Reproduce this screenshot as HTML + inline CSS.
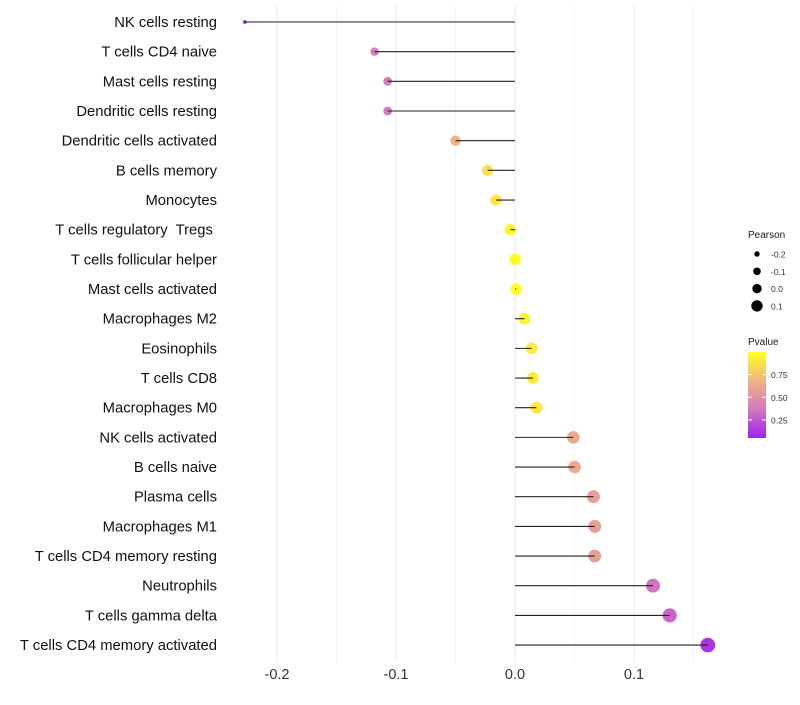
<!DOCTYPE html>
<html><head><meta charset="utf-8"><style>
body{margin:0;background:#fff;}
svg text{font-family:"Liberation Sans",sans-serif;white-space:pre;}
</style></head><body>
<svg id="chart" width="800" height="700"></svg>
<script>
const categories=["NK cells resting","T cells CD4 naive","Mast cells resting","Dendritic cells resting","Dendritic cells activated","B cells memory","Monocytes","T cells regulatory  Tregs ","T cells follicular helper","Mast cells activated","Macrophages M2","Eosinophils","T cells CD8","Macrophages M0","NK cells activated","B cells naive","Plasma cells","Macrophages M1","T cells CD4 memory resting","Neutrophils","T cells gamma delta","T cells CD4 memory activated"];
const pearson=[-0.227,-0.118,-0.107,-0.107,-0.050,-0.023,-0.016,-0.004,0.000,0.001,0.008,0.014,0.015,0.018,0.049,0.050,0.066,0.067,0.067,0.116,0.130,0.162];
const pvalue=[0.05,0.38,0.38,0.38,0.68,0.88,0.9,0.97,0.99,1.0,0.96,0.93,0.93,0.9,0.62,0.63,0.58,0.58,0.58,0.35,0.3,0.12];
const xTicks=[-0.2,-0.1,0.0,0.1];
const xTickLabels=["-0.2","-0.1","0.0","0.1"];
const minorTicks=[-0.15,-0.05,0.05,0.15];
const sizeLegend=[-0.2,-0.1,0.0,0.1];
const colorLegend=[0.75,0.50,0.25];

const svg=document.getElementById('chart');
const NS='http://www.w3.org/2000/svg';
function mk(t,a,p){const e=document.createElementNS(NS,t);for(const k in a)e.setAttribute(k,a[k]);(p||svg).appendChild(e);return e;}
const x=v=>515+v*1190;
const y=i=>22+i*29.67;
const r=v=>Math.sqrt(Math.max(2.25,3.5+130*(v+0.227)));
function lerp(a,b,t){return a.map((c,i)=>Math.round(c+(b[i]-c)*t));}
function col(p){const t=Math.min(1,Math.max(0,(p-0.05)/0.95));
 const s=[[160,32,240],[212,120,190],[240,180,130],[255,255,32]];
 const f=t*3,i=Math.min(2,Math.floor(f));const c=lerp(s[i],s[i+1],f-i);return `rgb(${c})`;}

[...xTicks,...minorTicks].forEach((v,k)=>{const g=mk('line',{x1:x(v),x2:x(v),y1:5,y2:662,stroke:k<xTicks.length?'#ebebeb':'#f4f4f4','stroke-width':1});
});
xTicks.forEach((v,i)=>{const t=mk('text',{x:x(v),y:679,'text-anchor':'middle','font-size':14.5,fill:'#333'});t.textContent=xTickLabels[i];
});

categories.forEach((c,i)=>{
 const t=mk('text',{x:217,y:y(i)+5,'text-anchor':'end','font-size':14.8,fill:'#111'});t.textContent=c;
 
 const p=mk('circle',{cx:x(pearson[i]),cy:y(i),r:r(pearson[i]),fill:col(pvalue[i])});
 
 const l=mk('line',{x1:x(0),x2:x(pearson[i]),y1:y(i),y2:y(i),stroke:'#222','stroke-width':1.1});
 
});

const lt=mk('text',{x:748,y:238,'font-size':10,fill:'#1a1a1a'});lt.textContent='Pearson';

const lr=[2.7,3.8,4.7,5.7];
sizeLegend.forEach((v,i)=>{const cy=254+i*17.3;
 const c=mk('circle',{cx:757,cy:cy,r:lr[i],fill:'#000'});
 const t=mk('text',{x:771,y:cy+3.5,'font-size':8.5,fill:'#333'});t.textContent=v.toFixed(1);
 });
const pt=mk('text',{x:748,y:345,'font-size':10,fill:'#1a1a1a'});pt.textContent='Pvalue';

const defs=mk('defs',{});const gr=mk('linearGradient',{id:'g',x1:0,y1:1,x2:0,y2:0},defs);
[0,0.33,0.67,1].forEach((o,i)=>mk('stop',{offset:o,'stop-color':col(0.05+o*0.95)},gr));
const cb=mk('rect',{x:748,y:352,width:18,height:86,fill:'url(#g)'});

const py=p=>438-(p-0.05)/0.95*86;
colorLegend.forEach(v=>{mk('line',{x1:748,x2:752,y1:py(v),y2:py(v),stroke:'#fff'});mk('line',{x1:762,x2:766,y1:py(v),y2:py(v),stroke:'#fff'});
 const t=mk('text',{x:771,y:py(v)+3.5,'font-size':8.5,fill:'#333'});t.textContent=v.toFixed(2);
 });
</script>
</body></html>
